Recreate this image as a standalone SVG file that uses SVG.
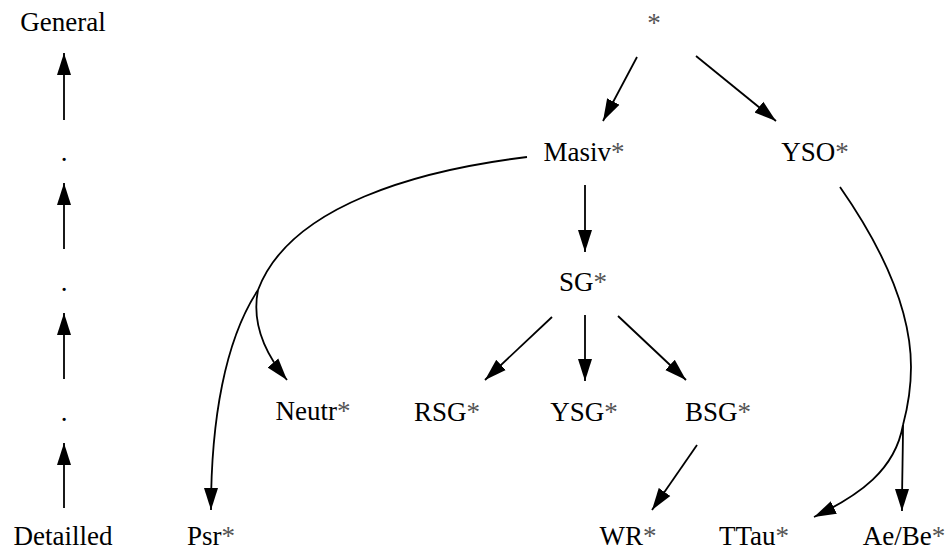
<svg xmlns="http://www.w3.org/2000/svg" width="947" height="552" viewBox="0 0 947 552">
<style>
text{font-family:"Liberation Serif","Times New Roman",serif;font-size:27px;fill:#000;text-anchor:middle}
.s{fill:#555}
.e{fill:none;stroke:#000;stroke-width:1.8;marker-end:url(#ah)}
.b{fill:none;stroke:#000;stroke-width:1.8}
</style>
<defs>
<marker id="ah" markerUnits="userSpaceOnUse" markerWidth="24" markerHeight="16" refX="22" refY="7" orient="auto" viewBox="0 0 24 14">
<path d="M0,0 L22,7 L0,14 z" fill="#000"/>
</marker>
</defs>
<rect width="947" height="552" fill="#fff"/>
<g id="connectors">
<path class="e" d="M64,120 L64,53"/>
<path class="e" d="M64,249 L64,183"/>
<path class="e" d="M64,379 L64,313"/>
<path class="e" d="M64,508 L64,443"/>
<path class="e" d="M637,57 L603,121"/>
<path class="e" d="M696,56 L776,121"/>
<path class="e" d="M585,185 L585,252"/>
<path class="e" d="M552,317 L485,380"/>
<path class="e" d="M585,315 L585,381"/>
<path class="e" d="M618,316 L686,380"/>
<path class="e" d="M697,445 L652,510"/>
<path class="b" d="M527,157 C420,170 290,205 258,290"/>
<path class="e" d="M258,290 C225,340 211,420 211,510"/>
<path class="e" d="M258,290 C252,320 262,350 287,380"/>
<path class="b" d="M840,187 C870,230 911,300 911,367 C911,390 907,410 903,425"/>
<path class="e" d="M903,425 C903,450 902,480 902,511"/>
<path class="e" d="M903,425 C895,470 860,495 814,517"/>
</g>
<g id="general"><text x="63" y="31">General</text></g>
<g id="detailled"><text x="63" y="545">Detailled</text></g>
<g id="dot1"><text x="64" y="161">.</text></g>
<g id="dot2"><text x="64" y="291">.</text></g>
<g id="dot3"><text x="64" y="421">.</text></g>
<g id="root"><text x="654" y="32" class="s">*</text></g>
<g id="masiv"><text x="584" y="161">Masiv<tspan class="s">*</tspan></text></g>
<g id="yso"><text x="815" y="161">YSO<tspan class="s">*</tspan></text></g>
<g id="sg"><text x="583" y="291">SG<tspan class="s">*</tspan></text></g>
<g id="neutr"><text x="313" y="420">Neutr<tspan class="s">*</tspan></text></g>
<g id="rsg"><text x="447" y="421">RSG<tspan class="s">*</tspan></text></g>
<g id="ysg"><text x="584" y="421">YSG<tspan class="s">*</tspan></text></g>
<g id="bsg"><text x="718" y="421">BSG<tspan class="s">*</tspan></text></g>
<g id="psr"><text x="211" y="545">Psr<tspan class="s">*</tspan></text></g>
<g id="wr"><text x="628" y="545">WR<tspan class="s">*</tspan></text></g>
<g id="ttau"><text x="754" y="545">TTau<tspan class="s">*</tspan></text></g>
<g id="aebe"><text x="904" y="545">Ae/Be<tspan class="s">*</tspan></text></g>
</svg>
